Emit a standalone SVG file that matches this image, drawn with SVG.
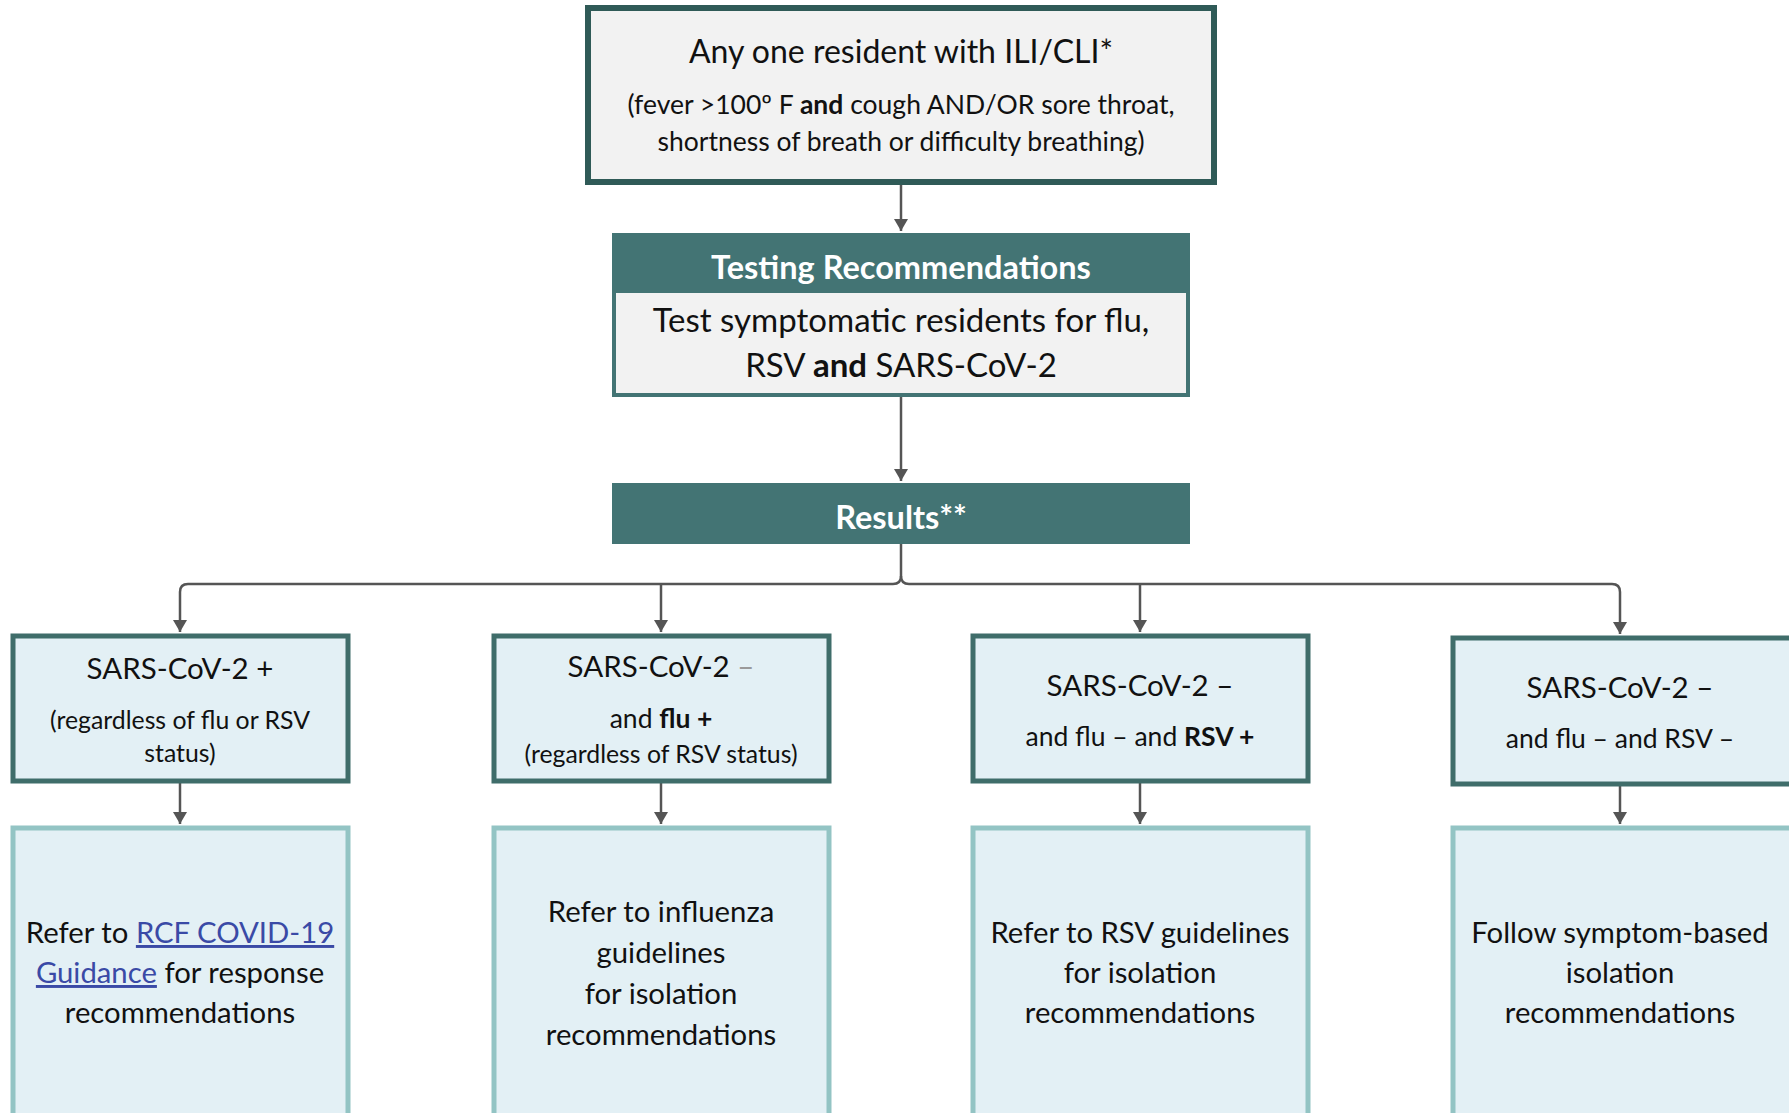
<svg xmlns="http://www.w3.org/2000/svg" width="1789" height="1113" viewBox="0 0 1789 1113">
<defs>
<marker id="ah" viewBox="0 0 12 14" refX="12" refY="7" markerWidth="12" markerHeight="14" orient="auto" markerUnits="userSpaceOnUse">
<path d="M0,0 L12,7 L0,14 Z" fill="#555"/>
</marker>
<style>
text{font-family:"Lato","Open Sans","Liberation Sans",sans-serif;fill:#111;text-anchor:middle}
.t1{font-size:32px}
.tb{font-size:33px}
.tr{font-size:29.5px}
.t2{font-size:26.5px}
.ts{font-size:24.8px}
.t3{font-size:29.3px}
.hd{font-size:32.5px;font-weight:bold;fill:#fff}
.b{font-weight:bold}
.lnk{fill:#3a4aa6;text-decoration:underline}
.dim{fill:#9a9a9a}
.top{fill:#f2f2f2;stroke:#2f5a57;stroke-width:6}
.body{fill:#f2f2f2;stroke:#437474;stroke-width:4}
.head{fill:#437474}
.r1{fill:#e3f0f5;stroke:#3f6d6a;stroke-width:5}
.r2{fill:#e3f0f5;stroke:#93c4c4;stroke-width:5}
.c{fill:none;stroke:#555;stroke-width:2.5}
</style>
</defs>
<rect width="1789" height="1113" fill="#fff"/>
<g id="connectors">
<path class="c" d="M901,183 V231" marker-end="url(#ah)"/>
<path class="c" d="M901,396 V481" marker-end="url(#ah)"/>
<path class="c" d="M901,544 V576 Q901,584 893,584 H188 Q180,584 180,592 V632" marker-end="url(#ah)"/>
<path class="c" d="M901,576 Q901,584 909,584 H1612 Q1620,584 1620,592 V634" marker-end="url(#ah)"/>
<path class="c" d="M661,584 V632" marker-end="url(#ah)"/>
<path class="c" d="M1140,584 V632" marker-end="url(#ah)"/>
<path class="c" d="M180,782 V824" marker-end="url(#ah)"/>
<path class="c" d="M661,782 V824" marker-end="url(#ah)"/>
<path class="c" d="M1140,782 V824" marker-end="url(#ah)"/>
<path class="c" d="M1620,784 V824" marker-end="url(#ah)"/>
</g>
<g id="start">
<rect class="top" x="588" y="8" width="626" height="174"/>
<text class="t1" x="901" y="63">Any one resident with ILI/CLI*</text>
<text class="t2" x="901" y="114">(fever &gt;100º F <tspan class="b">and</tspan> cough AND/OR sore throat,</text>
<text class="t2" x="901" y="151">shortness of breath or difficulty breathing)</text>
</g>
<g id="testing">
<rect class="body" x="614" y="235" width="574" height="160"/>
<rect class="head" x="612" y="233" width="578" height="60"/>
<text class="hd" x="901" y="279">Testing Recommendations</text>
<text class="tb" x="901" y="332">Test symptomatic residents for flu,</text>
<text class="tb" x="901" y="377">RSV <tspan class="b">and</tspan> SARS-CoV-2</text>
</g>
<g id="results">
<rect class="head" x="612" y="483" width="578" height="61"/>
<text class="hd" x="901" y="529">Results**</text>
</g>
<g id="pos">
<rect class="r1" x="13" y="636" width="335" height="145"/>
<text class="tr" x="180" y="679">SARS-CoV-2 +</text>
<text class="ts" x="180" y="729">(regardless of flu or RSV</text>
<text class="ts" x="180" y="762">status)</text>
</g>
<g id="flu">
<rect class="r1" x="494" y="636" width="335" height="145"/>
<text class="tr" x="661" y="677">SARS-CoV-2 <tspan class="dim">–</tspan></text>
<text class="t2" x="661" y="728">and <tspan class="b">flu +</tspan></text>
<text class="ts" x="661" y="763">(regardless of RSV status)</text>
</g>
<g id="rsv">
<rect class="r1" x="973" y="636" width="335" height="145"/>
<text class="tr" x="1140" y="696">SARS-CoV-2 –</text>
<text class="t2" x="1140" y="746">and flu – and <tspan class="b">RSV +</tspan></text>
</g>
<g id="neg">
<rect class="r1" x="1453" y="638" width="340" height="146"/>
<text class="tr" x="1620" y="698">SARS-CoV-2 –</text>
<text class="t2" x="1620" y="748">and flu – and RSV –</text>
</g>
<g id="refer-covid">
<rect class="r2" x="13" y="828" width="335" height="300"/>
<text class="t3" x="180" y="943">Refer to <tspan class="lnk">RCF COVID-19</tspan></text>
<text class="t3" x="180" y="983"><tspan class="lnk">Guidance</tspan> for response</text>
<text class="t3" x="180" y="1023">recommendations</text>
</g>
<g id="refer-flu">
<rect class="r2" x="494" y="828" width="335" height="300"/>
<text class="t3" x="661" y="922">Refer to influenza</text>
<text class="t3" x="661" y="963">guidelines</text>
<text class="t3" x="661" y="1004">for isolation</text>
<text class="t3" x="661" y="1045">recommendations</text>
</g>
<g id="refer-rsv">
<rect class="r2" x="973" y="828" width="335" height="300"/>
<text class="t3" x="1140" y="943">Refer to RSV guidelines</text>
<text class="t3" x="1140" y="983">for isolation</text>
<text class="t3" x="1140" y="1023">recommendations</text>
</g>
<g id="symptom">
<rect class="r2" x="1453" y="828" width="340" height="300"/>
<text class="t3" x="1620" y="943">Follow symptom-based</text>
<text class="t3" x="1620" y="983">isolation</text>
<text class="t3" x="1620" y="1023">recommendations</text>
</g>
</svg>
